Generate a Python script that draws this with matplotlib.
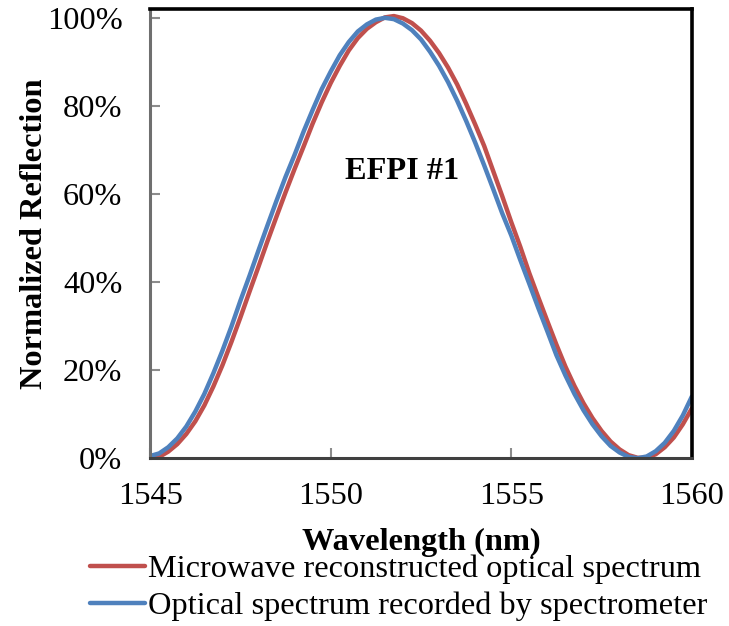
import matplotlib
matplotlib.use("Agg")
import matplotlib.pyplot as plt
from matplotlib.ticker import PercentFormatter

# wavelength grid (nm) shared by both traces
wavelength = [
    1545.00, 1545.25, 1545.50, 1545.75, 1546.00, 1546.25, 1546.50, 1546.75,
    1547.00, 1547.25, 1547.50, 1547.75, 1548.00, 1548.25, 1548.50, 1548.75,
    1549.00, 1549.25, 1549.50, 1549.75, 1550.00, 1550.25, 1550.50, 1550.75,
    1551.00, 1551.25, 1551.50, 1551.75, 1552.00, 1552.25, 1552.50, 1552.75,
    1553.00, 1553.25, 1553.50, 1553.75, 1554.00, 1554.25, 1554.50, 1554.75,
    1555.00, 1555.25, 1555.50, 1555.75, 1556.00, 1556.25, 1556.50, 1556.75,
    1557.00, 1557.25, 1557.50, 1557.75, 1558.00, 1558.25, 1558.50, 1558.75,
    1559.00, 1559.25, 1559.50, 1559.75, 1560.00,
]

# normalized reflection (%)
microwave = [
    0.0, 0.3, 1.5, 3.2, 5.5, 8.4, 12.0, 16.3,
    21.1, 26.4, 32.0, 37.8, 43.5, 49.3, 54.9, 60.4,
    65.7, 70.8, 76.0, 80.8, 85.2, 89.1, 92.6, 95.4,
    97.5, 99.0, 100.1, 100.4, 99.9, 98.8, 97.1, 94.8,
    92.0, 88.7, 84.9, 80.5, 75.8, 70.9, 65.2, 59.5,
    53.6, 48.0, 42.0, 36.5, 31.1, 25.8, 20.8, 16.4,
    12.5, 9.1, 6.2, 3.8, 2.0, 0.7, 0.1, 0.1,
    0.9, 2.5, 4.7, 7.7, 11.3,
]

spectrometer = [
    0.5, 1.1, 2.5, 4.5, 7.2, 10.6, 14.6, 19.3,
    24.4, 29.9, 35.8, 41.4, 47.2, 52.9, 58.5, 63.9,
    68.9, 74.2, 79.1, 83.8, 87.8, 91.5, 94.5, 96.9,
    98.5, 99.6, 100.0, 99.7, 98.7, 97.2, 95.1, 92.3,
    89.1, 85.4, 81.2, 76.6, 71.7, 66.5, 61.1, 55.6,
    50.6, 45.0, 39.6, 34.1, 28.8, 23.4, 18.8, 14.6,
    10.9, 7.7, 5.0, 2.8, 1.3, 0.3, 0.0, 0.4,
    1.6, 3.5, 6.2, 9.7, 14.0,
]

series_labels = [
    "Microwave reconstructed optical spectrum",
    "Optical spectrum recorded by spectrometer",
]
x_ticks = [1545, 1550, 1555, 1560]
y_ticks = [0, 20, 40, 60, 80, 100]

plt.rcParams["font.family"] = ["Liberation Serif", "DejaVu Serif"]
FS = 23.3

fig = plt.figure(figsize=(7.29, 6.26), dpi=100)
ax = fig.add_axes([0.206, 0.268, 0.743, 0.7176])

ax.plot(wavelength, microwave, color="#C0504D", lw=3.2,
        solid_capstyle="round", label=series_labels[0])
ax.plot(wavelength, spectrometer, color="#4F81BD", lw=3.2,
        solid_capstyle="round", label=series_labels[1])

ax.set_xlim(1545, 1560)
ax.set_ylim(0, 102)
ax.set_xticks(x_ticks)
ax.set_yticks(y_ticks)
ax.yaxis.set_major_formatter(PercentFormatter(100, decimals=0))

ax.tick_params(direction="in", length=7, width=1.5, color="#8c8c8c",
               labelsize=FS)
ax.tick_params(axis="y", pad=20)
ax.tick_params(axis="x", pad=17)

# Excel-like frame: gray axis lines, black plot-area border
ax.spines["left"].set_color("#6f6f6f")
ax.spines["left"].set_linewidth(2.2)
ax.spines["bottom"].set_color("#404040")
ax.spines["bottom"].set_linewidth(2.2)
for side in ("top", "right"):
    ax.spines[side].set_color("black")
    ax.spines[side].set_linewidth(2.6)

ax.set_xlabel("Wavelength (nm)", fontsize=FS, fontweight="bold", labelpad=12)
ax.set_ylabel("Normalized Reflection", fontsize=FS, fontweight="bold", labelpad=-2)

ax.text(1551.97, 65, "EFPI #1", fontsize=FS, fontweight="bold",
        ha="center", va="center")

fig.legend(loc="upper left", bbox_to_anchor=(0.123, 0.114), frameon=False,
           fontsize=FS, handlelength=1.7, handletextpad=0.1,
           labelspacing=0.23, borderpad=0, borderaxespad=0)

fig.savefig("out.png", dpi=100)
